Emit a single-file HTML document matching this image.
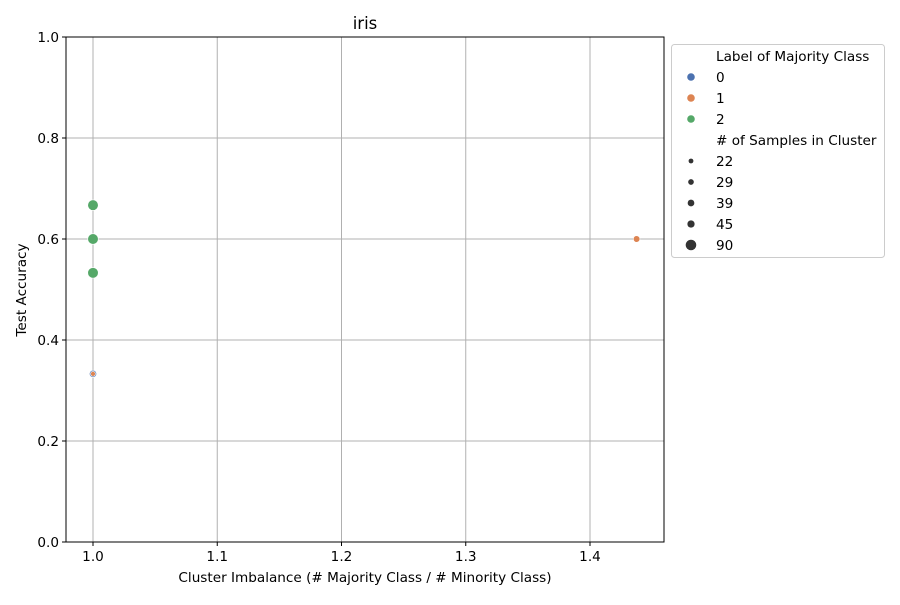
<!DOCTYPE html>
<html><head><meta charset="utf-8"><style>
body{margin:0;background:#fff;font-family:"Liberation Sans","DejaVu Sans",sans-serif}
</style></head><body>
<svg id="chart" width="900" height="600" xmlns="http://www.w3.org/2000/svg" font-family="'DejaVu Sans','Liberation Sans',sans-serif">
<rect width="900" height="600" fill="#fff"/>
<g id="grid"></g>
<g id="pts"></g>
<rect x="66" y="37" width="598" height="505" fill="none" stroke="#000" stroke-width="1"/>
<g id="ticks" font-size="13.6"></g>
<text x="365" y="29" text-anchor="middle" font-size="16.5">iris</text>
<text x="365" y="582" text-anchor="middle" font-size="13.6">Cluster Imbalance (# Majority Class / # Minority Class)</text>
<text transform="translate(26,290) rotate(-90)" text-anchor="middle" font-size="13.6">Test Accuracy</text>
<g id="legend" font-size="13.6">
<rect x="671.5" y="44.5" width="213" height="213" rx="3" fill="#fff" stroke="#ccc"/>
</g>
</svg>
<script>
const xs=[1.0,1.0,1.0,1.0,1.0,1.4375];
const ys=[0.667,0.6,0.533,0.333,0.333,0.6];
const labels=[2,2,2,0,1,1];
const sizes=[90,90,90,45,22,39];
const xTicks=[1.0,1.1,1.2,1.3,1.4];
const yTicks=[0,0.2,0.4,0.6,0.8,1.0];
const legendSizes=[22,29,39,45,90];
const colors=['#4c72b0','#dd8452','#55a868'];
const NS='http://www.w3.org/2000/svg';
const X0=66,X1=664,Y0=542,Y1=37,xmin=0.97827,xmax=1.45956;
const xS=v=>X0+(v-xmin)/(xmax-xmin)*(X1-X0);
const yS=v=>Y0+(v-0)/(1-0)*(Y1-Y0);
const rS=s=>Math.sqrt(s)*0.6-0.4;
function mk(t,a,p){const e=document.createElementNS(NS,t);for(const k in a)e.setAttribute(k,a[k]);p.appendChild(e);return e;}
const grid=document.getElementById('grid'),ticks=document.getElementById('ticks');
xTicks.forEach(v=>{const x=xS(v);
 const l=mk('line',{x1:x,x2:x,y1:Y1,y2:Y0,stroke:'#b0b0b0','stroke-width':1},grid);
 
 
 mk('line',{x1:x,x2:x,y1:Y0,y2:Y0+4,stroke:'#000'},ticks);
 const t=mk('text',{x:x,y:Y0+19,'text-anchor':'middle'},ticks);t.textContent=v.toFixed(1);
 
 });
yTicks.forEach(v=>{const y=yS(v);
 const l=mk('line',{x1:X0,x2:X1,y1:y,y2:y,stroke:'#b0b0b0','stroke-width':1},grid);
 
 
 mk('line',{x1:X0-4,x2:X0,y1:y,y2:y,stroke:'#000'},ticks);
 const t=mk('text',{x:X0-7,y:y+5,'text-anchor':'end'},ticks);t.textContent=v.toFixed(1);
 
 });
const pts=document.getElementById('pts');
xs.forEach((v,i)=>{const c=mk('circle',{cx:xS(v),cy:yS(ys[i]),r:rS(sizes[i]),fill:colors[labels[i]],stroke:'#fff','stroke-width':0.6},pts);
 
 });
const lg=document.getElementById('legend');
function txt(x,y,s){const t=mk('text',{x:x,y:y},lg);t.textContent=s;}
txt(716,61,'Label of Majority Class');
[0,1,2].forEach((k,i)=>{const y=77+i*21;
 const c=mk('circle',{cx:691,cy:y,r:3.8,fill:colors[k]},lg);
 
 
 txt(716,y+5,String(k));});
txt(716,145,'# of Samples in Cluster');
legendSizes.forEach((s,i)=>{const y=161+i*21;
 const c=mk('circle',{cx:691,cy:y,r:rS(s),fill:'#333'},lg);
 
 
 txt(716,y+5,String(s));});
</script>
</body></html>
